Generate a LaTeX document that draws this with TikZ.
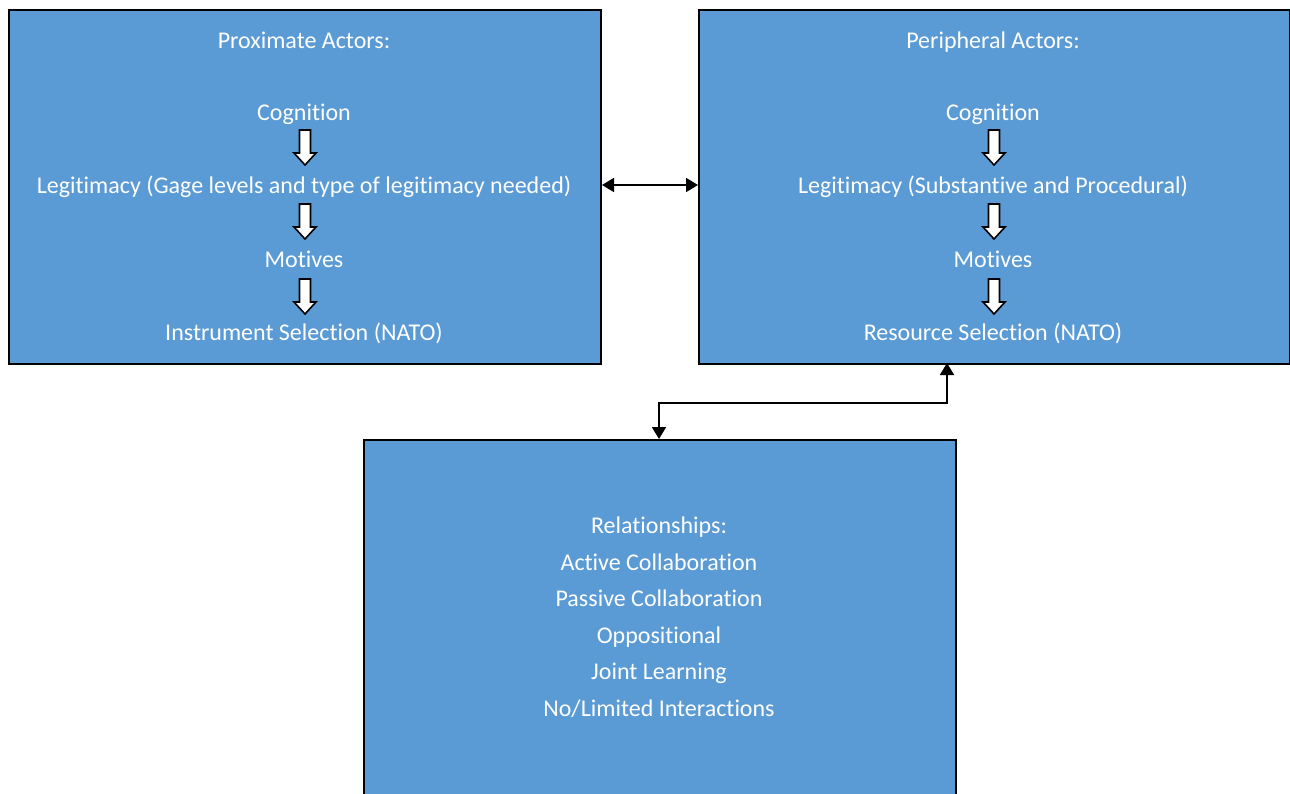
\documentclass[tikz,border=0pt]{standalone}
\usepackage{fontspec}
\setmainfont[Ligatures=NoCommon]{Carlito}
\usetikzlibrary{arrows.meta}
\definecolor{boxblue}{HTML}{5B9BD5}
\tikzset{
  panel/.style={draw=black, line width=2pt, fill=boxblue, anchor=north west, inner sep=0pt},
  lbl/.style={text=white, font=\fontsize{24}{28}\selectfont, inner sep=0pt, anchor=base},
  conn/.style={line width=1.8pt, {Triangle[length=12pt,width=14pt]}-{Triangle[length=12pt,width=14pt]}},
  blockarrow/.pic={\draw[line width=1.6pt, fill=white] (-5.5,0) -- (5.5,0) -- (5.5,23) -- (11,23) -- (0,35) -- (-11,23) -- (-5.5,23) -- cycle;}
}
\begin{document}
\begin{tikzpicture}[x=1pt,y=-1pt]
\useasboundingbox (0,0) rectangle (1290,793);
\node[panel, minimum width=592pt, minimum height=354pt] (b1) at (8,9) {};
\node[panel, minimum width=591pt, minimum height=354pt] (b2) at (698,9) {};
\node[panel, minimum width=592pt, minimum height=400pt] (b3) at (363,439) {};

% left panel texts
\node[lbl] (p0) at (304,48) {Proximate Actors:};
\node[lbl] (p1) at (304,120) {Cognition};
\node[lbl] (p2) at (304,193) {Legitimacy (Gage levels and type of legitimacy needed)};
\node[lbl] (p3) at (304,267) {Motives};
\node[lbl] (p4) at (304,340) {Instrument Selection (NATO)};
\pic at (305,130) {blockarrow};
\pic at (305,204) {blockarrow};
\pic at (305,279) {blockarrow};

% right panel texts
\node[lbl] (q0) at (993,48) {Peripheral Actors:};
\node[lbl] (q1) at (993,120) {Cognition};
\node[lbl] (q2) at (993,193) {Legitimacy (Substantive and Procedural)};
\node[lbl] (q3) at (993,267) {Motives};
\node[lbl] (q4) at (993,340) {Resource Selection (NATO)};
\pic at (994,130) {blockarrow};
\pic at (994,204) {blockarrow};
\pic at (994,279) {blockarrow};

% bottom panel texts
\node[lbl] (r0) at (659,533) {Relationships:};
\node[lbl] (r1) at (659,570) {Active Collaboration};
\node[lbl] (r2) at (659,606) {Passive Collaboration};
\node[lbl] (r3) at (659,643) {Oppositional};
\node[lbl] (r4) at (659,679) {Joint Learning};
\node[lbl] (r5) at (659,716) {No/Limited Interactions};

% connectors
\coordinate (h1) at (b1.east |- 0,185);
\coordinate (h2) at (b2.west |- 0,185);
\draw[conn] (h1) -- (h2);
\coordinate (v1) at (947,363);
\coordinate (v2) at (659,439);
\draw[conn] (v2) -- (659,403) -- (947,403) -- (v1);
\end{tikzpicture}
\end{document}
